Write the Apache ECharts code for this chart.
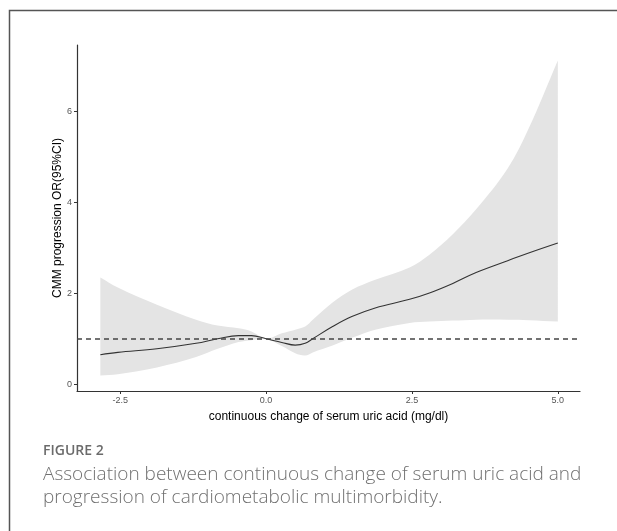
<!DOCTYPE html>
<html>
<head>
<meta charset="utf-8">
<script src="https://cdn.jsdelivr.net/npm/echarts@6/dist/echarts.min.js"></script>
<style>
html,body{margin:0;padding:0;background:#fff;}
#chart{width:617px;height:531px;}
</style>
</head>
<body>
<div id="chart"></div>
<script>
// x positions (mg/dl change)
const xs =      [-2.84, -2.54, -1.87, -1.2, -0.83, -0.47, -0.25, 0.0, 0.27, 0.5, 0.67, 0.8, 1.14, 1.47, 1.87, 2.46, 2.8, 3.2, 3.6, 4.14, 4.5, 5.0];
// fitted OR
const orVals =  [0.65, 0.70, 0.78, 0.90, 1.00, 1.07, 1.07, 1.00, 0.92, 0.86, 0.90, 1.00, 1.27, 1.49, 1.68, 1.87, 2.01, 2.22, 2.46, 2.72, 2.89, 3.11];
// 95% CI upper
const upper =   [2.35, 2.13, 1.75, 1.42, 1.29, 1.23, 1.16, 1.00, 1.12, 1.20, 1.27, 1.42, 1.80, 2.08, 2.30, 2.57, 2.85, 3.30, 3.85, 4.75, 5.63, 7.13];
// 95% CI lower
const lower =   [0.19, 0.22, 0.37, 0.60, 0.78, 0.93, 0.97, 1.00, 0.84, 0.68, 0.63, 0.70, 0.85, 1.02, 1.20, 1.35, 1.38, 1.40, 1.42, 1.42, 1.41, 1.38];
const xTicks = [-2.5, 0, 2.5, 5];
const xTickLabels = ['-2.5', '0.0', '2.5', '5.0'];
const yTicks = [0, 2, 4, 6];
const refLine = 1;

const chart = echarts.init(document.getElementById('chart'));
const bandData = xs.map((x, i) => [x, lower[i], upper[i]]);
const lineData = xs.map((x, i) => [x, orVals[i]]);

function renderBand(params, api) {
  if (params.dataIndex !== 0) return null;
  const up = [], lo = [];
  for (let i = 0; i < xs.length; i++) {
    up.push(api.coord([xs[i], upper[i]]));
    lo.push(api.coord([xs[i], lower[i]]));
  }
  const n = xs.length;
  // duplicate corner points so the smoothing keeps the corners sharp
  const pts = [up[0], up[0]].concat(up.slice(1, n - 1), [up[n - 1], up[n - 1], lo[n - 1], lo[n - 1]],
    lo.slice(1, n - 1).reverse(), [lo[0], lo[0]]);
  return {
    type: 'polygon',
    shape: { points: pts, smooth: 0.35 },
    style: { fill: '#e4e4e4', stroke: null },
    clipPath: { type: 'rect', shape: { x: params.coordSys.x, y: params.coordSys.y, width: params.coordSys.width, height: params.coordSys.height } }
  };
}

chart.setOption({
  backgroundColor: '#fff',
  animation: false,
  grid: { left: 77, right: 37, top: 45, bottom: 140, containLabel: false },
  xAxis: {
    type: 'value', min: -3.24, max: 5.38,
    name: 'continuous change of serum uric acid (mg/dl)',
    nameLocation: 'middle', nameGap: 20,
    nameTextStyle: { color: '#000', fontSize: 12, fontFamily: 'Liberation Sans' },
    axisLine: { show: true, onZero: false, lineStyle: { color: '#333', width: 1.2 } },
    axisTick: { show: true, length: 3, lineStyle: { color: '#333' }, customValues: xTicks },
    axisLabel: { color: '#555', fontSize: 9, margin: 5, fontFamily: 'Liberation Sans',
      customValues: xTicks,
      formatter: v => xTickLabels[xTicks.indexOf(v)] },
    splitLine: { show: false }
  },
  yAxis: {
    type: 'value', min: -0.15, max: 7.47,
    name: 'CMM progression OR(95%CI)',
    nameLocation: 'middle', nameGap: 13, nameRotate: 90, nameMoveOverlap: false,
    nameTextStyle: { color: '#000', fontSize: 12, fontFamily: 'Liberation Sans' },
    axisLine: { show: true, onZero: false, lineStyle: { color: '#333', width: 1.2 } },
    axisTick: { show: true, length: 3, lineStyle: { color: '#333' }, customValues: yTicks },
    axisLabel: { color: '#555', fontSize: 9, margin: 5, fontFamily: 'Liberation Sans', customValues: yTicks },
    splitLine: { show: false }
  },
  graphic: [
    { type: 'rect', shape: { x: 9.5, y: 10.5, width: 660, height: 560 },
      style: { fill: 'none', stroke: '#555', lineWidth: 1.5 }, z: -1, silent: true },
    { type: 'text', x: 43, y: 451,
      style: { text: 'FIGURE 2', fill: '#6b6b6b', font: '600 14px "Open Sans"', verticalAlign: 'middle' } },
    { type: 'text', x: 43, y: 475,
      style: { text: 'Association between continuous change of serum uric acid and', fill: '#707070', font: '300 19px "Open Sans"', verticalAlign: 'middle' } },
    { type: 'text', x: 43, y: 498,
      style: { text: 'progression of cardiometabolic multimorbidity.', fill: '#707070', font: '300 19px "Open Sans"', verticalAlign: 'middle' } }
  ],
  series: [
    { type: 'custom', renderItem: renderBand, data: bandData, encode: { x: 0, y: [1, 2] }, silent: true, z: 1 },
    { type: 'line', data: lineData, smooth: 0.4, symbol: 'none',
      lineStyle: { color: '#333', width: 1.1 }, z: 3,
      markLine: { silent: true, symbol: 'none', label: { show: false },
        lineStyle: { color: '#444', width: 1.6, type: [5, 4] },
        data: [{ yAxis: refLine }] } }
  ]
});
</script>
</body>
</html>
